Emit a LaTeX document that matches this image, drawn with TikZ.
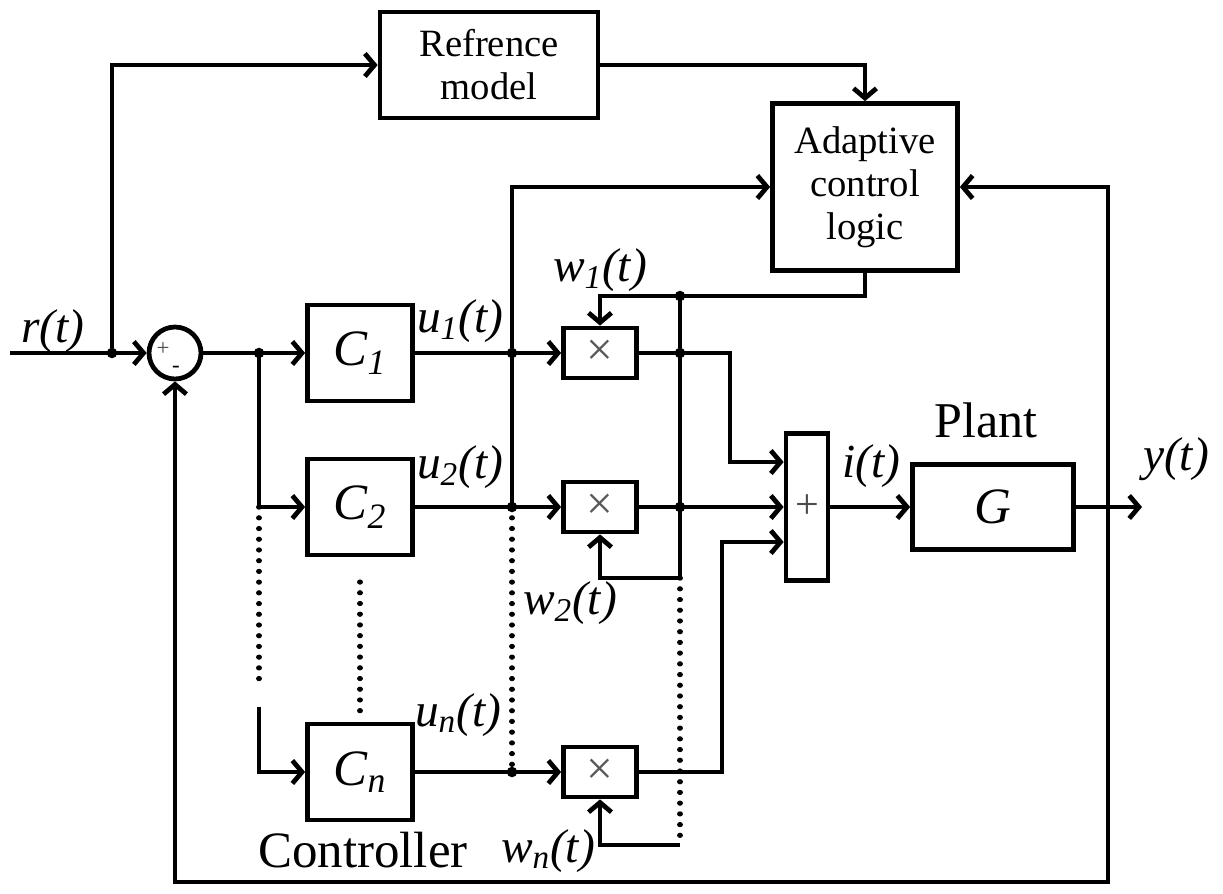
\documentclass[tikz,border=0pt]{standalone}
\usepackage{fontspec}
\setmainfont{Liberation Serif}
\usetikzlibrary{arrows.meta,calc}
\newcommand{\mysb}[1]{\textsubscript{#1}}
\tikzset{
  wire/.style={line width=2.7pt},
  arr/.style={wire, -{Straight Barb[length=5.5pt,width=13pt]}},
  dotline/.style={line width=2.9pt, line cap=round, dash pattern=on 0.1pt off 6pt},
  blk/.style={draw, line width=2.7pt, inner sep=0pt, align=center},
  mulbox/.style={blk, minimum width=1.46cm, minimum height=1.0cm, font=\fontsize{27}{27}\selectfont, text=black!65},
  cbox/.style={blk, minimum width=2.1cm, minimum height=1.92cm, font=\fontsize{29}{30}\selectfont\itshape},
  jdot/.style={circle, fill=black, inner sep=0pt, minimum size=6pt},
  lbl/.style={inner sep=0pt, font=\fontsize{27}{29}\selectfont\itshape},
}
\begin{document}
\begin{tikzpicture}[x=0.02cm, y=-0.02cm]
\useasboundingbox (0,0) rectangle (1223,893);
% blocks
\node[blk, minimum width=4.36cm, minimum height=2.12cm, font=\fontsize{22}{24.5}\selectfont] (ref) at (489,65) {Refrence\\model};
\node[blk, minimum width=3.7cm, minimum height=3.34cm, font=\fontsize{22}{24.5}\selectfont] (acl) at (865,187) {Adaptive\\control\\logic};
\node[draw, circle, line width=2.7pt, minimum size=1.04cm, inner sep=0pt] (sum) at (175,353) {};
\node[inner sep=0pt, font=\fontsize{13}{13}\selectfont, text=black!70] (sp) at (163,349) {+};
\node[inner sep=0pt, font=\fontsize{13}{13}\selectfont] (sm) at (176,369) {-};
\node[cbox] (c1) at (360,353) {C\mysb{1}};
\node[cbox] (c2) at (360,507) {C\mysb{2}};
\node[cbox] (cn) at (360,772) {C\mysb{n}};
\node[mulbox] (m1) at (600,353) {×};
\node[mulbox] (m2) at (600,507) {×};
\node[mulbox] (mn) at (600,772) {×};
\node[blk, minimum width=0.84cm, minimum height=2.94cm, font=\fontsize{24}{24}\selectfont, text=black!70] (add) at (807,507) {+};
\node[blk, minimum width=3.22cm, minimum height=1.7cm, font=\fontsize{29}{30}\selectfont\itshape] (g) at (993,507) {G};
% coordinates
\coordinate (rin) at (10,353);
\coordinate (k1) at (259,507);
\coordinate (k2) at (259,685);
\coordinate (k3) at (259,707);
\coordinate (wt) at (600,296);
\coordinate (wb) at (680,578);
\coordinate (wbn) at (680,845);
\coordinate (b1) at (730,353);
\coordinate (bn) at (722,772);
\coordinate (a1) at ([yshift=0.9cm]add.west);
\coordinate (a3) at ([yshift=-0.7cm]add.west);
\coordinate (yout) at (1142,507);
\coordinate (fb) at (1108,507);
\coordinate (fbb) at (1108,882);
% junction dots
\node[jdot] (jr) at (112,353) {};
\node[jdot] (j0) at (259,353) {};
\node[jdot] (ju1) at (512,353) {};
\node[jdot] (ju2) at (512,507) {};
\node[jdot] (jun) at (512,772) {};
\node[jdot] (jw) at (680,296) {};
\node[jdot] (jw1) at (680,353) {};
\node[jdot] (jw2) at (680,507) {};
% wires
\draw[arr] (rin) -- (sum.west);
\draw[arr] (jr.center) |- (ref.west);
\draw[arr] (ref.east) -| (acl.north);
\draw[arr] (sum.east) -- (c1.west);
\draw[arr] (j0.center) |- (c2.west);
\draw[dotline] (k1) -- (k2);
\draw[arr] (k3) |- (cn.west);
\draw[dotline, shorten <=14pt, shorten >=6pt] (c2.south) -- (cn.north);
\draw[arr] (c1.east) -- (m1.west);
\draw[arr] (c2.east) -- (m2.west);
\draw[arr] (cn.east) -- (mn.west);
\draw[arr] (ju2.center) |- (acl.west);
\draw[dotline] (ju2.center) -- (jun.center);
\draw[arr] (acl.south) |- (wt) -- (m1.north);
\draw[wire] (jw.center) -- (wb);
\draw[arr] (wb) -| (m2.south);
\draw[dotline] (wb) -- (wbn);
\draw[arr] (wbn) -| (mn.south);
\draw[arr] (m1.east) -- (b1) |- (a1);
\draw[arr] (m2.east) -- (add.west);
\draw[arr] (mn.east) -- (bn) |- (a3);
\draw[arr] (add.east) -- (g.west);
\draw[arr] (g.east) -- (yout);
\draw[arr] (fb) |- (acl.east);
\draw[arr] (fb) -- (fbb) -| (sum.south);
% labels
\node[lbl] (lr) at (53,331) {r(t)};
\node[lbl] (lu1) at (460,321) {u\mysb{1}(t)};
\node[lbl] (lu2) at (460,467) {u\mysb{2}(t)};
\node[lbl] (lun) at (458,715) {u\mysb{n}(t)};
\node[lbl] (lw1) at (600,270) {w\mysb{1}(t)};
\node[lbl] (lw2) at (570,603) {w\mysb{2}(t)};
\node[lbl] (lwn) at (548,851) {w\mysb{n}(t)};
\node[lbl] (li) at (871,466) {i(t)};
\node[lbl] (ly) at (1176,459) {y(t)};
\node[inner sep=0pt, font=\fontsize{28.5}{30}\selectfont] (plant) at (986,420) {Plant};
\node[inner sep=0pt, font=\fontsize{29}{30}\selectfont] (ctrl) at (363,850) {Controller};
\end{tikzpicture}
\end{document}
